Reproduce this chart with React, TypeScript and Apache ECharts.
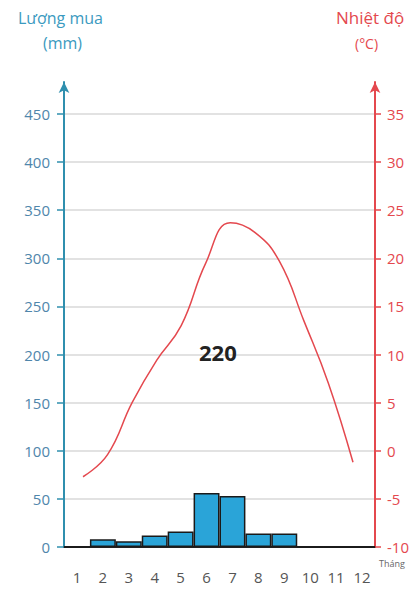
import React, { useEffect, useRef } from "react";
import * as echarts from "echarts";

const months = ["1", "2", "3", "4", "5", "6", "7", "8", "9", "10", "11", "12"];
const rainfall = [0, 8, 6, 12, 16, 56, 53, 14, 14, 0, 0, 0];
const temperature = [-2.7, -0.4, 5, 9.4, 13, 19.5, 23.7, 22.7, 19.7, 13.5, 7, -1.2];
const totalRain = "220";
const rainTicks = { min: 0, max: 450, interval: 50 };
const tempTicks = { min: -10, max: 35, interval: 5 };

const FONT = "Open Sans";
const BLUE = "#2f8fae";
const BLUE_LABEL = "#4f86ab";
const TITLE_BLUE = "#3b9ac0";
const RED = "#e4484e";

export default function App() {
  const ref = useRef<HTMLDivElement>(null);
  useEffect(() => {
    const chart = echarts.init(ref.current!, null, { renderer: "svg" });
    const L = 64, R = 44, B = 45;
    chart.setOption({
      animation: false,
      backgroundColor: "#ffffff",
      textStyle: { fontFamily: FONT },
      grid: [
        { left: L, right: R, top: 114, bottom: B },
        { left: L, right: R, top: 82, bottom: B },
        { left: 83, right: 66, top: 114, bottom: B },
      ],
      xAxis: [
        {
          gridIndex: 0,
          type: "category",
          data: months,
          boundaryGap: true,
          axisLine: { lineStyle: { color: "#222", width: 2 } },
          axisTick: { show: false },
          axisLabel: { color: "#555", fontSize: 15, margin: 22, fontFamily: FONT },
          name: "Tháng",
          nameLocation: "end",
          nameGap: 4,
          nameTextStyle: { color: "#666", fontSize: 9, verticalAlign: "top", padding: [12, 0, 0, 0], fontFamily: FONT },
        },
        { gridIndex: 1, type: "category", data: months, show: false },
        { gridIndex: 2, type: "category", data: months, boundaryGap: false, show: false },
      ],
      yAxis: [
        {
          gridIndex: 0,
          type: "value",
          position: "left",
          ...rainTicks,
          axisLine: { show: false },
          axisTick: { show: true, length: 7, lineStyle: { color: BLUE, width: 1.5 } },
          axisLabel: { color: BLUE_LABEL, fontSize: 15, margin: 14, fontFamily: FONT },
          splitLine: { lineStyle: { color: "#d8d8d8", width: 1.5 } },
        },
        {
          gridIndex: 0,
          type: "value",
          position: "right",
          ...tempTicks,
          axisLine: { show: false },
          axisTick: { show: true, length: 6, lineStyle: { color: RED, width: 1.5 } },
          axisLabel: { color: RED, fontSize: 15, margin: 12, fontFamily: FONT },
          splitLine: { show: false },
        },
        {
          gridIndex: 1,
          type: "value",
          position: "left",
          axisLine: { show: true, lineStyle: { color: BLUE, width: 2 }, symbol: ["none", "arrow"], symbolSize: [8, 11] },
          axisTick: { show: false },
          axisLabel: { show: false },
          splitLine: { show: false },
        },
        {
          gridIndex: 1,
          type: "value",
          position: "right",
          axisLine: { show: true, lineStyle: { color: RED, width: 2 }, symbol: ["none", "arrow"], symbolSize: [8, 11] },
          axisTick: { show: false },
          axisLabel: { show: false },
          splitLine: { show: false },
        },
        {
          gridIndex: 2,
          type: "value",
          ...tempTicks,
          show: false,
        },
      ],
      series: [
        {
          type: "bar",
          xAxisIndex: 0,
          yAxisIndex: 0,
          data: rainfall,
          barCategoryGap: "0%",
          itemStyle: { color: "#2aa4d8", borderColor: "#1a1a1a", borderWidth: 1.5 },
        },
        {
          type: "line",
          xAxisIndex: 2,
          yAxisIndex: 4,
          data: temperature,
          smooth: 0.45,
          symbol: "none",
          lineStyle: { color: RED, width: 1.5 },
        },
      ],
      graphic: [
        { type: "text", z: 100, left: 18, top: 10, style: { text: "Lượng mua", fill: TITLE_BLUE, fontSize: 16, fontFamily: FONT } },
        { type: "text", z: 100, left: 43, top: 35, style: { text: "(mm)", fill: TITLE_BLUE, fontSize: 16, fontFamily: FONT } },
        { type: "text", z: 100, left: 336, top: 9, style: { text: "Nhiệt độ", fill: RED, fontSize: 17, fontFamily: FONT } },
        { type: "text", z: 100, left: 355, top: 36, style: { text: "(°C)", fill: RED, fontSize: 14, fontFamily: FONT } },
        { type: "text", z: 100, left: 199, top: 341, style: { text: totalRain, fill: "#222", fontSize: 22, fontWeight: "bold", fontFamily: FONT } },
      ],
    });
    return () => chart.dispose();
  }, []);
  return <div ref={ref} style={{ width: 419, height: 592, position: "absolute", left: 0, top: 0 }} />;
}
